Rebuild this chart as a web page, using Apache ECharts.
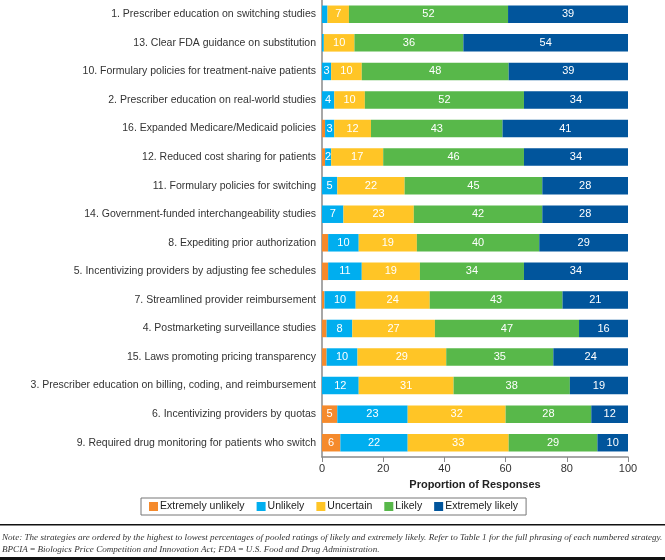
<!DOCTYPE html>
<html>
<head>
<meta charset="utf-8">
<script src="https://cdn.jsdelivr.net/npm/echarts@6/dist/echarts.min.js"></script>
<style>
html,body{margin:0;padding:0;background:#fff;}
#chart{width:665px;height:560px;}
</style>
</head>
<body>
<div id="chart"></div>
<script>
var categories = [
  "1. Prescriber education on switching studies",
  "13. Clear FDA guidance on substitution",
  "10. Formulary policies for treatment-naive patients",
  "2. Prescriber education on real-world studies",
  "16. Expanded Medicare/Medicaid policies",
  "12. Reduced cost sharing for patients",
  "11. Formulary policies for switching",
  "14. Government-funded interchangeability studies",
  "8. Expediting prior authorization",
  "5. Incentivizing providers by adjusting fee schedules",
  "7. Streamlined provider reimbursement",
  "4. Postmarketing surveillance studies",
  "15. Laws promoting pricing transparency",
  "3. Prescriber education on billing, coding, and reimbursement",
  "6. Incentivizing providers by quotas",
  "9. Required drug monitoring for patients who switch"
];
var extremelyUnlikely = [0, 0, 0, 0, 1, 1, 0, 0, 2, 2, 0.8, 1.5, 1.5, 0, 5, 6];
var unlikely          = [1.8, 0.6, 3, 4, 3, 2, 5, 7, 10, 11, 10.2, 8.4, 10.1, 12, 23, 22];
var uncertain         = [7, 10, 10, 10, 12, 17, 22, 23, 19, 19, 24.2, 27, 29, 31, 32, 33];
var likely            = [52, 35.6, 48, 52, 43, 46, 45, 42, 40, 34, 43.4, 47.1, 35, 38, 28, 29];
var extremelyLikely   = [39.2, 53.8, 39, 34, 41, 34, 28, 28, 29, 34, 21.4, 16, 24.4, 19, 12, 10];
var seriesNames = ["Extremely unlikely", "Unlikely", "Uncertain", "Likely", "Extremely likely"];
var xTicks = [0, 20, 40, 60, 80, 100];
var noteLine1 = "Note: The strategies are ordered by the highest to lowest percentages of pooled ratings of likely and extremely likely. Refer to Table 1 for the full phrasing of each numbered strategy.";
var noteLine2 = "BPCIA\u2009=\u2009Biologics Price Competition and Innovation Act; FDA\u2009=\u2009U.S. Food and Drug Administration.";

var colors = ["#F58A2C", "#00AEEF", "#FFC526", "#58B84A", "#01559C"];
var minLabel = [3, 2, 2, 2, 2];
var allData = [extremelyUnlikely, unlikely, uncertain, likely, extremelyLikely];
var FONT = "'Liberation Sans', Arial, sans-serif";

var chart = echarts.init(document.getElementById('chart'), null, {renderer: 'canvas'});
var series = seriesNames.map(function (name, i) {
  return {
    name: name,
    type: 'bar',
    stack: 'total',
    barWidth: 17.5,
    data: allData[i],
    itemStyle: {color: colors[i]},
    label: {
      show: true,
      position: 'inside',
      color: '#fff',
      fontFamily: FONT,
      fontSize: 11,
      formatter: function (p) {
        return p.value >= minLabel[p.seriesIndex] ? String(Math.round(p.value)) : '';
      }
    },
    emphasis: {disabled: true},
    animation: false
  };
});

chart.setOption({
  animation: false,
  color: colors,
  grid: {left: 322, right: 37, top: -2, bottom: 103, containLabel: false},
  xAxis: {
    type: 'value',
    min: xTicks[0],
    max: xTicks[xTicks.length - 1],
    interval: 20,
    splitLine: {show: false},
    axisLine: {show: true, lineStyle: {color: '#8a8a8a', width: 1.5}},
    axisTick: {show: true, length: 5, lineStyle: {color: '#8a8a8a', width: 1}},
    axisLabel: {color: '#333', fontFamily: FONT, fontSize: 11, margin: 6},
    name: 'Proportion of Responses',
    nameLocation: 'middle',
    nameGap: 22,
    nameTextStyle: {color: '#222', fontFamily: FONT, fontSize: 11, fontWeight: 'bold'}
  },
  yAxis: {
    type: 'category',
    data: categories,
    inverse: true,
    axisLine: {show: true, onZero: false, lineStyle: {color: '#8a8a8a', width: 1.5}},
    axisTick: {show: false},
    axisLabel: {color: '#333', fontFamily: FONT, fontSize: 10.5, margin: 6}
  },
  legend: {
    data: seriesNames,
    left: 141,
    top: 498,
    orient: 'horizontal',
    icon: 'rect',
    itemWidth: 9,
    itemHeight: 9,
    itemGap: 12,
    padding: [3, 8, 3, 8],
    borderColor: '#777',
    borderWidth: 1,
    selectedMode: false,
    textStyle: {color: '#222', fontFamily: FONT, fontSize: 10.5, padding: [0, 0, 0, -3]}
  },
  graphic: [
    {type: 'rect', shape: {x: 0, y: 524, width: 665, height: 1.5}, style: {fill: '#111'}, silent: true},
    {type: 'text', x: 2, y: 537.5, style: {text: noteLine1, fill: '#333', font: "italic 9.1px 'Liberation Serif', 'DejaVu Serif', serif", verticalAlign: 'middle'}, silent: true},
    {type: 'text', x: 2, y: 550, style: {text: noteLine2, fill: '#333', font: "italic 9.1px 'Liberation Serif', 'DejaVu Serif', serif", verticalAlign: 'middle'}, silent: true},
    {type: 'rect', shape: {x: 0, y: 557, width: 665, height: 3}, style: {fill: '#111'}, silent: true}
  ],
  series: series
});
</script>
</body>
</html>
